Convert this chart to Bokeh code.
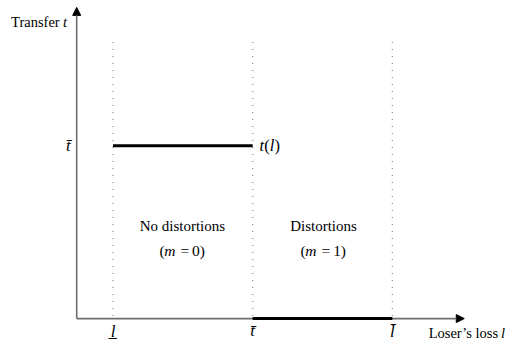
from bokeh.plotting import figure
from bokeh.models import Arrow, NormalHead, Range1d
from bokeh.core.properties import value
from bokeh.embed import file_html
from bokeh.resources import INLINE

# conceptual data
l_low = 1.0        # l underline
t_bar_x = 3.0      # t bar on loss axis
l_high = 5.0       # l bar
t_bar = 1.0        # transfer level
t_low = 0.0
axis_x0 = 0.48     # position of transfer axis
axis_y0 = 0.0
dot_top = 1.6
x_arrow_end = 6.03
y_arrow_end = 1.80

seg_no_l = [l_low, t_bar_x]
seg_no_t = [t_bar, t_bar]
seg_d_l = [t_bar_x, l_high]
seg_d_t = [t_low, t_low]
dotted_x = [l_low, t_bar_x, l_high]
regions = ["No distortions", "Distortions"]
m_values = ["0", "1"]

FONT = value("Liberation Serif")

# reference-pixel helpers (reference px -> data)
def dx(X):
    return (X - 44) / 72.0

def dy(Y):
    return (333 - Y) / 181.0

p = figure(width=516, height=341, output_backend="svg", toolbar_location=None,
           x_axis_type=None, y_axis_type=None, min_border=0,
           x_range=Range1d(dx(0), dx(532)), y_range=Range1d(dy(357), dy(0)))
p.outline_line_color = None
p.xgrid.visible = False
p.ygrid.visible = False
p.background_fill_color = "white"
p.border_fill_color = "white"

# dotted verticals
for xv in dotted_x:
    p.line([xv, xv], [dot_top, 0.015], line_color="#8a8a8a", line_width=1.2, line_dash="1 6")

# axes
p.add_layout(Arrow(end=NormalHead(size=8, fill_color="black", line_color="black"),
                   x_start=axis_x0, y_start=axis_y0, x_end=axis_x0, y_end=y_arrow_end,
                   line_color="#6e6e6e", line_width=1.6, level="underlay"))
p.add_layout(Arrow(end=NormalHead(size=8, fill_color="black", line_color="black"),
                   x_start=axis_x0, y_start=axis_y0, x_end=x_arrow_end, y_end=axis_y0,
                   line_color="#6e6e6e", line_width=1.6, level="underlay"))

# t(l)
p.line(seg_no_l, seg_no_t, line_color="black", line_width=3)
p.line(seg_d_l, seg_d_t, line_color="black", line_width=3)

def txt(x, y, s, size, align="left", style="normal"):
    p.text(x=[x], y=[y], text=[s], text_font=FONT, text_font_size=size,
           text_align=align, text_baseline="middle", text_font_style=style,
           text_color="black")

# axis titles
txt(dx(61), dy(22), "Transfer", "14.5px", "right")
txt(dx(64.5), dy(22), "t", "14.5px", "left", "italic")
txt(dx(513), dy(348), "Loser\u2019s loss", "14.5px", "right")
txt(dx(516), dy(348), "l", "14.5px", "left", "italic")

# t-bar on transfer axis
txt(dx(70), dy(152), "t\u0304", "17px", "center", "italic")

# t(l) label
txt(dx(269.5), dy(152), "t", "16.5px", "center", "italic")
txt(dx(274.8), dy(152), "(", "16.5px", "center")
txt(dx(280), dy(152), "l", "16.5px", "center", "italic")
txt(dx(285.2), dy(152), ")", "16.5px", "center")

# regions
def m_label(cx, digit):
    y = dy(262)
    parts = [(cx - 20.5, "(", "normal"), (cx - 12.5, "m", "italic"),
             (cx + 3, "=", "normal"), (cx + 14.5, digit, "normal"),
             (cx + 21, ")", "normal")]
    for px, s, st in parts:
        txt(dx(px), y, s, "15.5px", "center", st)

for cx, name, mv in zip([187.5, 333], regions, m_values):
    txt(dx(cx), dy(236), name, "15px", "center")
    m_label(cx - 0.5, mv)

# loss-axis labels
txt(l_low, dy(347), "l\u0332", "17px", "center", "italic")
txt(t_bar_x, dy(346), "t\u0304", "17px", "center", "italic")
txt(l_high, dy(347), "l\u0304", "17px", "center", "italic")

open("out.html", "w").write(file_html(p, INLINE))
